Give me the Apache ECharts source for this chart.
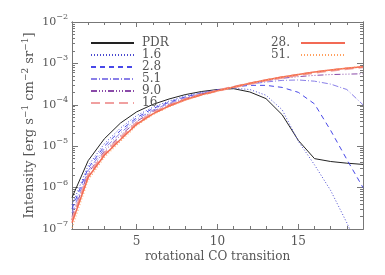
<!DOCTYPE html>
<html><head><meta charset="utf-8">
<script src="https://cdn.jsdelivr.net/npm/echarts@6/dist/echarts.min.js"></script>
<style>html,body{margin:0;padding:0;background:#fff}#c{width:385px;height:275px}</style>
</head><body><div id="c"></div>
<script>
// rotational CO transition (upper J)
const transitions = [1,2,3,4,5,6,7,8,9,10,11,12,13,14,15,16,17,18,19];
// Intensity [erg s^-1 cm^-2 sr^-1]
const pdr   = [5.75e-7,4.47e-6,1.51e-5,3.63e-5,6.76e-5,1.02e-4,1.38e-4,1.76e-4,2.09e-4,2.34e-4,2.45e-4,2.04e-4,1.41e-4,5.75e-5,1.38e-5,5.01e-6,4.27e-6,3.89e-6,3.63e-6];
const m1_6  = [3.80e-7,3.39e-6,1.15e-5,2.75e-5,5.50e-5,8.71e-5,1.23e-4,1.62e-4,2.00e-4,2.29e-4,2.51e-4,2.34e-4,1.70e-4,7.59e-5,1.32e-5,3.55e-6,8.51e-7,1.41e-7,2.0e-8];
const m2_8  = [3.09e-7,2.95e-6,1.00e-5,2.40e-5,4.90e-5,8.13e-5,1.15e-4,1.55e-4,1.91e-4,2.29e-4,2.69e-4,2.95e-4,2.95e-4,2.63e-4,2.00e-4,1.05e-4,2.40e-5,4.79e-6,1.00e-6];
const m5_1  = [2.45e-7,2.57e-6,8.71e-6,2.09e-5,4.47e-5,7.41e-5,1.10e-4,1.48e-4,1.86e-4,2.24e-4,2.69e-4,3.16e-4,3.55e-4,3.89e-4,3.98e-4,3.72e-4,3.16e-4,2.34e-4,1.00e-4];
const m9_0  = [2.00e-7,2.24e-6,7.59e-6,1.82e-5,3.98e-5,6.92e-5,1.02e-4,1.41e-4,1.82e-4,2.24e-4,2.69e-4,3.24e-4,3.80e-4,4.37e-4,4.79e-4,5.13e-4,5.37e-4,5.50e-4,5.62e-4];
const m16   = [1.62e-7,1.95e-6,6.61e-6,1.58e-5,3.63e-5,6.31e-5,9.55e-5,1.35e-4,1.78e-4,2.19e-4,2.69e-4,3.24e-4,3.89e-4,4.57e-4,5.25e-4,6.03e-4,6.76e-4,7.41e-4,8.13e-4];
const m28   = [1.41e-7,1.78e-6,6.03e-6,1.45e-5,3.39e-5,6.03e-5,9.33e-5,1.32e-4,1.74e-4,2.19e-4,2.69e-4,3.31e-4,3.98e-4,4.68e-4,5.37e-4,6.17e-4,6.92e-4,7.59e-4,8.32e-4];
const m51   = [1.07e-7,1.51e-6,5.37e-6,1.32e-5,3.16e-5,5.75e-5,8.91e-5,1.29e-4,1.70e-4,2.14e-4,2.69e-4,3.31e-4,3.98e-4,4.68e-4,5.37e-4,6.17e-4,6.92e-4,7.76e-4,8.51e-4];
const seriesNames = ['PDR','1.6','2.8','5.1','9.0','16','28.','51.'];
const seriesValues = [pdr,m1_6,m2_8,m5_1,m9_0,m16,m28,m51];
const xTickLabels = [5,10,15];
const xMinorTicks = [2,3,4,6,7,8,9,11,12,13,14,16,17,18];
const yTickValues = [1e-7,1e-6,1e-5,1e-4,1e-3,1e-2];
const yMinorTicks = [];
for (const d of [1e-7,1e-6,1e-5,1e-4,1e-3]) for (const k of [2,3,4,5,6,7,8,9]) yMinorTicks.push(k*d);

const FONT = 'DejaVu Serif';
const TXT = '#555';
const AX = '#777';
const styles = [
  {color:'#222', type:'solid', width:1},
  {color:'#4a4ad0', type:[1,2], width:1},
  {color:'#4848e8', type:[5,4], width:1},
  {color:'#8a80e8', type:[6,2,1,2], width:1},
  {color:'#8a4aa8', type:[6,2,1,2,1,2,1,2], width:1},
  {color:'#f0a0a0', type:[9,5], width:2.5},
  {color:'#f26a55', type:'solid', width:1.5},
  {color:'#ffa060', type:[1,2], width:1.2}
];

const series = seriesNames.map((n,i)=>({
  name:n, type:'line', symbol:'none', showSymbol:false, xAxisIndex:0, yAxisIndex:0, clip:true,
  lineStyle: styles[i], itemStyle:{color:styles[i].color},
  data: transitions.map((j,k)=>[j, seriesValues[i][k]]),
  z: 2+i
}));

const expLabel = v => { const e = Math.round(Math.log10(v)); return '{b|10}{s|' + (e<0?'\u2212':'') + Math.abs(e) + '}'; };

function xAx(pos, major, labels){
  return {type:'value', position:pos, min:1, max:19,
    axisLine:{show:true, lineStyle:{color:AX}}, splitLine:{show:false},
    axisTick:{show:true, inside:true, length: major?5:3, customValues: major?xTickLabels:xMinorTicks, lineStyle:{color:AX}},
    axisLabel:{show:labels, customValues:xTickLabels, fontFamily:FONT, fontSize:12, color:TXT, margin:7},
    name: labels ? 'rotational CO transition' : '', nameLocation:'middle', nameGap:22, nameMoveOverlap:false,
    nameTextStyle:{fontFamily:FONT, fontSize:12, color:TXT}};
}
function yAx(pos, major, labels){
  return {type:'log', logBase:10, position:pos, min:1e-7, max:1e-2,
    axisLine:{show:true, lineStyle:{color:AX}}, splitLine:{show:false},
    axisTick:{show:true, inside:true, length: major?6:3, customValues: major?yTickValues:yMinorTicks, lineStyle:{color:AX}},
    axisLabel:{show:labels, customValues:yTickValues, formatter:expLabel, margin:4,
      rich:{b:{fontFamily:FONT, fontSize:11, color:TXT}, s:{fontFamily:FONT, fontSize:8, color:TXT, padding:[0,0,10,0]}}},
    name: labels ? 'Intensity [erg s{s|\u22121} cm{s|\u22122} sr{s|\u22121}]' : '', nameLocation:'middle', nameGap:34, nameMoveOverlap:false,
    nameTextStyle:{fontFamily:FONT, fontSize:13, color:TXT,
      rich:{s:{fontFamily:FONT, fontSize:9, color:TXT, padding:[0,0,8,0]}}}};
}

const legendCommon = {orient:'vertical', top:37, padding:0, itemHeight:11, itemGap:0, selectedMode:false,
  itemStyle:{color:'rgba(0,0,0,0)', borderColor:'rgba(0,0,0,0)', borderWidth:0}};

const chart = echarts.init(document.getElementById('c'), null, {renderer:'canvas'});
chart.setOption({
  animation:false,
  backgroundColor:'#fff',
  grid:{left:72, right:22, top:22, bottom:46, containLabel:false},
  xAxis:[xAx('bottom',true,true), xAx('bottom',false,false), xAx('top',true,false), xAx('top',false,false)],
  yAxis:[yAx('left',true,true), yAx('left',false,false), yAx('right',true,false), yAx('right',false,false)],
  legend:[
    Object.assign({}, legendCommon, {data:seriesNames.slice(0,6), left:90, itemWidth:43,
      textStyle:{fontFamily:FONT, fontSize:12, lineHeight:11, color:TXT, padding:[0,0,0,3]}}),
    Object.assign({}, legendCommon, {data:seriesNames.slice(6), right:39, align:'right', itemWidth:44,
      textStyle:{fontFamily:FONT, fontSize:12, lineHeight:11, color:TXT, padding:[0,6,0,0]}})
  ],
  series: series
});
</script></body></html>
